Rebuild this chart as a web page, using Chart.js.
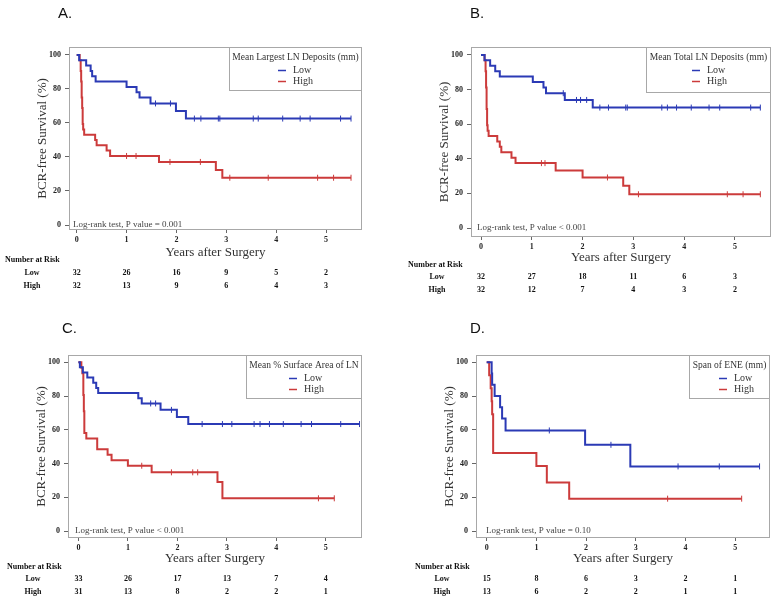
<!DOCTYPE html>
<html><head><meta charset="utf-8">
<script src="https://cdn.jsdelivr.net/npm/chart.js@4.4.0/dist/chart.umd.min.js"></script>
<style>
html,body{margin:0;padding:0;background:#fff;}
#wrap{position:relative;width:780px;height:607px;overflow:hidden;background:#fff;}
canvas{position:absolute;}
</style></head><body>
<div id="wrap">
<canvas id="cA" width="390" height="300" style="left:0;top:0;width:390px;height:300px"></canvas>
<canvas id="cB" width="390" height="300" style="left:390px;top:0;width:390px;height:300px"></canvas>
<canvas id="cC" width="390" height="307" style="left:0;top:300px;width:390px;height:307px"></canvas>
<canvas id="cD" width="390" height="307" style="left:390px;top:300px;width:390px;height:307px"></canvas>
</div>
<script>
// ---------- tick labels / categories ----------
const xTicks = [0, 1, 2, 3, 4, 5];
const yTicks = [0, 20, 40, 60, 80, 100];
const groupNames = ['Low', 'High'];
const panelLetters = ['A.', 'B.', 'C.', 'D.'];
const legendTitles = ['Mean Largest LN Deposits (mm)', 'Mean Total LN Deposits (mm)', 'Mean % Surface Area of LN', 'Span of ENE (mm)'];
const pTexts = ['Log-rank test, P value = 0.001', 'Log-rank test, P value < 0.001', 'Log-rank test, P value < 0.001', 'Log-rank test, P value = 0.10'];

// ---------- Panel A ----------
const aLowTime  = [0, 0.05, 0.19, 0.28, 0.31, 0.38, 1.0, 1.2, 1.26, 1.48, 1.99, 2.19, 5.5];
const aLowSurv  = [100, 96.9, 93.8, 90.6, 87.5, 84.4, 81.2, 78.1, 75.0, 71.5, 67.1, 62.6, 62.6];
const aLowCens  = [1.58, 1.88, 2.36, 2.49, 2.84, 2.87, 3.54, 3.64, 4.13, 4.48, 4.68, 5.29, 5.5];
const aHighTime = [0, 0.06, 0.08, 0.09, 0.1, 0.11, 0.12, 0.13, 0.15, 0.37, 0.4, 0.6, 0.67, 1.65, 2.79, 2.92, 5.5];
const aHighSurv = [100, 96.9, 90.6, 84.4, 75.0, 68.8, 59.4, 56.2, 53.1, 50.0, 46.9, 43.8, 40.6, 37.1, 32.4, 27.8, 27.8];
const aHighCens = [1.0, 1.19, 1.87, 2.48, 3.07, 3.84, 4.83, 5.15, 5.5];
const aRiskLow  = [32, 26, 16, 9, 5, 2];
const aRiskHigh = [32, 13, 9, 6, 4, 3];

// ---------- Panel B ----------
const bLowTime  = [0, 0.07, 0.18, 0.28, 0.37, 1.02, 1.23, 1.28, 1.65, 2.2, 5.5];
const bLowSurv  = [100, 96.9, 93.8, 90.6, 87.5, 84.4, 81.2, 77.9, 74.0, 69.6, 69.6];
const bLowCens  = [1.62, 1.88, 1.96, 2.08, 2.34, 2.51, 2.85, 2.88, 3.56, 3.67, 3.85, 4.14, 4.49, 4.7, 5.31, 5.5];
const bHighTime = [0, 0.07, 0.09, 0.1, 0.11, 0.12, 0.13, 0.15, 0.32, 0.37, 0.4, 0.6, 0.68, 1.47, 2.0, 2.8, 2.92, 5.5];
const bHighSurv = [100, 96.9, 90.6, 81.2, 68.8, 59.4, 56.2, 53.1, 50.0, 46.9, 43.8, 40.6, 37.5, 33.3, 29.2, 24.4, 19.5, 19.5];
const bHighCens = [1.19, 1.26, 2.49, 3.1, 4.85, 5.16, 5.5];
const bRiskLow  = [32, 27, 18, 11, 6, 3];
const bRiskHigh = [32, 12, 7, 4, 3, 2];

// ---------- Panel C ----------
const cLowTime  = [0, 0.03, 0.09, 0.18, 0.3, 0.36, 0.4, 1.21, 1.28, 1.66, 1.99, 2.22, 5.68];
const cLowSurv  = [100, 97.0, 93.9, 90.9, 87.9, 84.8, 81.8, 78.7, 75.6, 71.8, 67.6, 63.4, 63.4];
const cLowCens  = [1.46, 1.56, 1.88, 2.5, 2.91, 3.1, 3.55, 3.67, 3.86, 4.14, 4.5, 4.71, 5.3, 5.68];
const cHighTime = [0, 0.06, 0.08, 0.1, 0.11, 0.12, 0.16, 0.38, 0.59, 0.67, 1.0, 1.48, 2.81, 2.91, 5.17];
const cHighSurv = [100, 96.8, 93.5, 80.6, 71.0, 58.1, 54.8, 48.4, 45.2, 41.9, 38.7, 34.8, 29.0, 19.4, 19.4];
const cHighCens = [1.28, 1.88, 2.31, 2.41, 4.85, 5.17];
const cRiskLow  = [33, 26, 17, 13, 7, 4];
const cRiskHigh = [31, 13, 8, 2, 2, 1];

// ---------- Panel D ----------
const dLowTime  = [0, 0.1, 0.11, 0.16, 0.27, 0.31, 0.38, 1.98, 2.89, 5.49];
const dLowSurv  = [100, 93.3, 86.7, 80.0, 73.3, 66.7, 59.6, 51.1, 38.3, 38.3];
const dLowCens  = [1.26, 2.5, 3.85, 4.68, 5.49];
const dHighTime = [0, 0.05, 0.08, 0.1, 0.11, 0.13, 1.0, 1.21, 1.66, 5.13];
const dHighSurv = [100, 92.3, 84.6, 76.9, 69.2, 46.2, 38.5, 28.8, 19.2, 19.2];
const dHighCens = [3.64, 5.13];
const dRiskLow  = [15, 8, 6, 3, 2, 1];
const dRiskHigh = [13, 6, 2, 2, 1, 1];

// ---------- styling / layout (not data) ----------
const BLUE = '#2b3ab5', RED = '#cc3b3b';
const SERIF = '"Liberation Serif", "Times New Roman", serif';
const layouts = [
  {id:'cA', W:390, H:300, L:69, R:362, T:47, B:230, xH:30, xMin:-0.154, xMax:5.72, yMin:-2.94, yMax:104.7,
   lx:58, ly:14, rX:5, rY0:260, rY1:273, rDy:13, rLX:32, pDx:4, legH:43},
  {id:'cB', W:390, H:300, L:81, R:381, T:47, B:237, xH:28, xMin:-0.197, xMax:5.71, yMin:-5.2, yMax:104.6,
   lx:80, ly:14, rX:18, rY0:265, rY1:277, rDy:13, rLX:47, pDx:6, legH:45},
  {id:'cC', W:390, H:307, L:68, R:362, T:55, B:238, xH:28, xMin:-0.21, xMax:5.73, yMin:-4.1, yMax:104.3,
   lx:62, ly:29, rX:7, rY0:267, rY1:279, rDy:13, rLX:33, pDx:7, legH:43},
  {id:'cD', W:390, H:307, L:86, R:380, T:55, B:238, xH:28, xMin:-0.215, xMax:5.70, yMin:-4.1, yMax:104.3,
   lx:80, ly:29, rX:25, rY0:267, rY1:279, rDy:13, rLX:52, pDx:10, legH:43}
];
const panelData = [
  {low:[aLowTime, aLowSurv, aLowCens], high:[aHighTime, aHighSurv, aHighCens], risk:[aRiskLow, aRiskHigh]},
  {low:[bLowTime, bLowSurv, bLowCens], high:[bHighTime, bHighSurv, bHighCens], risk:[bRiskLow, bRiskHigh]},
  {low:[cLowTime, cLowSurv, cLowCens], high:[cHighTime, cHighSurv, cHighCens], risk:[cRiskLow, cRiskHigh]},
  {low:[dLowTime, dLowSurv, dLowCens], high:[dHighTime, dHighSurv, dHighCens], risk:[dRiskLow, dRiskHigh]}
];

function survAt(T, S, t) {
  let v = S[0];
  for (let i = 0; i < T.length; i++) { if (T[i] <= t + 1e-9) v = S[i]; }
  return v;
}

const panelPlugin = {
  id: 'panel',
  afterDraw(chart, args, o) {
    const ctx = chart.ctx, ca = chart.chartArea, xs = chart.scales.x, ys = chart.scales.y;
    ctx.save();
    // frame
    ctx.strokeStyle = '#a8a8a8'; ctx.lineWidth = 1;
    ctx.strokeRect(Math.round(ca.left) + 0.5, Math.round(ca.top) + 0.5, Math.round(ca.right - ca.left) - 1, Math.round(ca.bottom - ca.top) - 1);
    // panel letter
    ctx.fillStyle = '#111'; ctx.font = '15px "Liberation Sans", Arial, sans-serif';
    ctx.textAlign = 'left'; ctx.textBaseline = 'middle';
    ctx.fillText(o.letter, o.lx, o.ly);
    // log-rank text
    ctx.font = '9px ' + SERIF; ctx.fillStyle = '#444';
    ctx.fillText(o.pText, ca.left + o.pDx, ys.getPixelForValue(0));
    // legend box
    ctx.font = '9.5px ' + SERIF;
    const tw = ctx.measureText(o.legendTitle).width;
    const bw = Math.round(tw + 6), bh = o.legH;
    const bx = Math.round(ca.right - bw) - 0.5, by = Math.round(ca.top) + 0.5;
    ctx.fillStyle = '#fff'; ctx.fillRect(bx, by, bw, bh);
    ctx.strokeStyle = '#a8a8a8'; ctx.strokeRect(bx, by, bw, bh);
    ctx.fillStyle = '#333'; ctx.textAlign = 'center';
    ctx.fillText(o.legendTitle, bx + bw / 2, by + 10);
    const mains = chart.data.datasets.filter(d => d.isMain);
    mains.forEach((d, i) => {
      const y = by + 23 + i * 11;
      const sx = Math.round(bx + bw * 0.37);
      ctx.strokeStyle = d.borderColor; ctx.lineWidth = 1.5;
      ctx.beginPath(); ctx.moveTo(sx, y); ctx.lineTo(sx + 8, y); ctx.stroke();
      ctx.fillStyle = '#333'; ctx.textAlign = 'left'; ctx.font = '10px ' + SERIF;
      ctx.fillText(d.label, sx + 15, y);
    });
    // number at risk table
    ctx.font = 'bold 8px ' + SERIF; ctx.fillStyle = '#111'; ctx.textAlign = 'left';
    ctx.fillText('Number at Risk', o.rX, o.rY0);
    groupNames.forEach((g, i) => {
      const y = o.rY1 + i * o.rDy;
      ctx.textAlign = 'center';
      ctx.fillText(g, o.rLX, y);
      o.risk[i].forEach((n, j) => ctx.fillText(String(n), xs.getPixelForValue(xTicks[j]), y));
    });
    ctx.restore();
  }
};

function kmDataset(label, color, arr) {
  const [T, S] = arr;
  return {label, isMain: true, data: T.map((t, i) => ({x: t, y: S[i]})), borderColor: color, backgroundColor: color,
    borderWidth: 2, stepped: 'before', pointRadius: 0, fill: false};
}
function censDataset(label, color, arr) {
  const [T, S, C] = arr;
  return {label, isMain: false, data: C.map(t => ({x: t, y: survAt(T, S, t)})), borderColor: color, backgroundColor: color,
    showLine: false, pointStyle: 'line', pointRotation: 90, pointRadius: 3, pointBorderWidth: 1};
}

layouts.forEach((L, k) => {
  const P = panelData[k];
  new Chart(document.getElementById(L.id), {
    type: 'line',
    data: {datasets: [
      kmDataset(groupNames[0], BLUE, P.low),
      kmDataset(groupNames[1], RED, P.high),
      censDataset(groupNames[0], BLUE, P.low),
      censDataset(groupNames[1], RED, P.high)
    ]},
    options: {
      responsive: false, animation: false, devicePixelRatio: 1,
      layout: {padding: {left: L.L - 34, right: L.W - L.R, top: L.T, bottom: L.H - L.B - L.xH}},
      plugins: {
        legend: {display: false}, tooltip: {enabled: false},
        panel: {letter: panelLetters[k], lx: L.lx, ly: L.ly, pText: pTexts[k], pDx: L.pDx,
          legendTitle: legendTitles[k], legH: L.legH, risk: P.risk, rX: L.rX, rY0: L.rY0, rY1: L.rY1, rDy: L.rDy, rLX: L.rLX}
      },
      scales: {
        x: {type: 'linear', min: L.xMin, max: L.xMax,
          afterBuildTicks: s => { s.ticks = xTicks.map(v => ({value: v})); },
          afterFit: s => { s.height = L.xH; },
          grid: {drawOnChartArea: false, drawTicks: true, tickLength: 3, color: '#666'},
          border: {display: false},
          ticks: {font: {family: SERIF, size: 8, weight: 'bold'}, color: '#222', padding: 2, maxRotation: 0, autoSkip: false},
          title: {display: true, text: 'Years after Surgery', font: {family: SERIF, size: 13}, color: '#333', padding: 0}
        },
        y: {type: 'linear', min: L.yMin, max: L.yMax,
          afterBuildTicks: s => { s.ticks = yTicks.map(v => ({value: v})); },
          afterFit: s => { s.width = 34; },
          grid: {drawOnChartArea: false, drawTicks: true, tickLength: 4, color: '#666'},
          border: {display: false},
          ticks: {font: {family: SERIF, size: 8, weight: 'bold'}, color: '#222', padding: 4},
          title: {display: true, text: 'BCR-free Survival (%)', font: {family: SERIF, size: 13}, color: '#333', padding: 0}
        }
      }
    },
    plugins: [panelPlugin]
  });
});
</script>
</body></html>
